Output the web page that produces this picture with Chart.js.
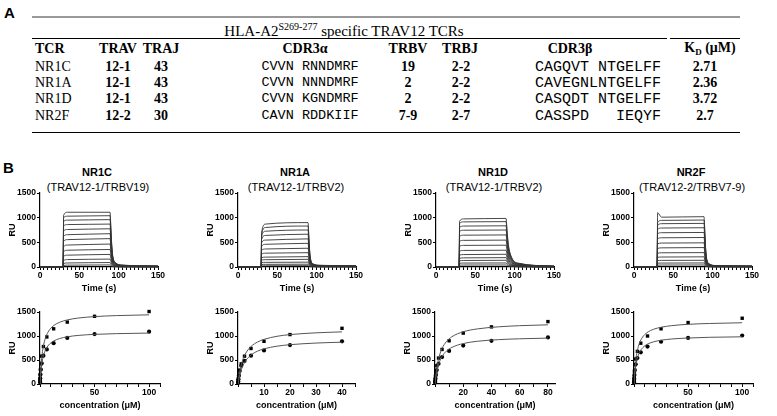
<!DOCTYPE html>
<html>
<head>
<meta charset="utf-8">
<script src="https://cdn.jsdelivr.net/npm/chart.js@4.4.1/dist/chart.umd.min.js"></script>
<style>
  body { margin: 0; background: #fff; }
  #page { position: relative; width: 777px; height: 416px; overflow: hidden; background: #fff;
          font-family: "Liberation Sans", Arial, sans-serif; color: #000; }
  .abs { position: absolute; }
  .panel { font-weight: bold; font-size: 15px; }
  .cell { position: absolute; font-family: "Liberation Serif", "Times New Roman", serif; font-size: 14px;
          white-space: pre; transform: translate(-50%, -50%); line-height: 1; }
  .cell.left { transform: translate(0, -50%); }
  .cell.b { font-weight: bold; }
  .cell.mono { font-family: "Liberation Mono", "Courier New", monospace; font-size: 13.5px; }
  .cell.mono.wide { font-size: 15px; }
  .rule { position: absolute; height: 0; }
  .ctitle { position: absolute; transform: translate(-50%, -50%); white-space: nowrap; line-height: 1; }
  .ctitle.main { font-weight: bold; font-size: 11px; }
  .ctitle.sub { font-size: 11px; }
  canvas { position: absolute; }
</style>
</head>
<body>
<div id="page">
  <div class="abs panel" style="left:4px; top:4px;">A</div>
  <div class="rule" style="left:32px; top:16px; width:708px; border-top:2px solid #999;"></div>
  <div class="cell" style="left:344px; top:30px; font-size:15px;">HLA-A2<sup style="font-size:10px;">S269-277</sup> specific TRAV12 TCRs</div>
  <div class="rule" style="left:32px; top:38px; width:635px; border-top:1.3px solid #000;"></div>
  <div class="rule" style="left:670px; top:38px; width:70px; border-top:1.3px solid #000;"></div>
  <div class="rule" style="left:32px; top:132px; width:708px; border-top:1.6px solid #000;"></div>
  <div id="tableCells"></div>

  <div class="abs panel" style="left:3px; top:159px;">B</div>
  <div id="chartTitles"></div>

  <canvas id="sg0" width="168" height="115"></canvas>
  <canvas id="sg1" width="168" height="115"></canvas>
  <canvas id="sg2" width="168" height="115"></canvas>
  <canvas id="sg3" width="168" height="115"></canvas>
  <canvas id="bd0" width="170" height="114"></canvas>
  <canvas id="bd1" width="167" height="114"></canvas>
  <canvas id="bd2" width="170" height="114"></canvas>
  <canvas id="bd3" width="169" height="114"></canvas>
</div>

<script>
// ---- table (panel A) ----
const tableHeaders = ['TCR', 'TRAV', 'TRAJ', 'CDR3\u03b1', 'TRBV', 'TRBJ', 'CDR3\u03b2', 'K<sub style="font-size:9px">D</sub> (\u03bcM)'];
const tcrNames = ['NR1C', 'NR1A', 'NR1D', 'NR2F'];
const travGenes = ['12-1', '12-1', '12-1', '12-2'];
const trajGenes = ['43', '43', '43', '30'];
const cdr3Alpha = ['CVVN RNNDMRF', 'CVVN NNNDMRF', 'CVVN KGNDMRF', 'CAVN RDDKIIF'];
const trbvGenes = ['19', '2', '2', '7-9'];
const trbjGenes = ['2-2', '2-2', '2-2', '2-7'];
const cdr3Beta = ['CAGQVT NTGELFF', 'CAVEGNLNTGELFF', 'CASQDT NTGELFF', 'CASSPD   IEQYF'];
const kdValues = ['2.71', '2.36', '3.72', '2.7'];

// subtitles of panel B
const chartNames = ['NR1C', 'NR1A', 'NR1D', 'NR2F'];
const chartChains = ['(TRAV12-1/TRBV19)', '(TRAV12-1/TRBV2)', '(TRAV12-1/TRBV2)', '(TRAV12-2/TRBV7-9)'];

// ---- sensorgrams: time points shared, each curve lists RU from t=30 on (baseline 0 before) ----
const sgTimes = [0, 29.5, 30, 35, 89, 90.5, 92, 96, 104, 150];
const sgNR1C = [
  [1050, 1110, 1110, 640, 280, 90, 40, 20],
  [1000, 1030, 1040, 600, 260, 85, 36, 18],
  [920, 950, 960, 550, 240, 78, 33, 16],
  [830, 860, 870, 500, 215, 70, 30, 15],
  [730, 760, 775, 440, 190, 62, 27, 13],
  [620, 655, 675, 385, 165, 54, 24, 12],
  [520, 555, 575, 330, 140, 46, 21, 10],
  [410, 445, 465, 265, 115, 38, 17, 9],
  [310, 340, 355, 205, 88, 29, 14, 7],
  [215, 240, 255, 145, 64, 22, 11, 6],
  [130, 150, 160, 92, 41, 15, 8, 4],
  [70, 82, 90, 52, 24, 9, 5, 3],
  [30, 38, 42, 25, 12, 5, 3, 2]
];
const sgNR1A = [
  [690, 870, 900, 470, 180, 60, 35, 25],
  [660, 800, 830, 430, 165, 55, 32, 22],
  [620, 725, 750, 390, 150, 50, 30, 20],
  [560, 640, 665, 345, 132, 45, 27, 18],
  [490, 545, 570, 295, 115, 40, 24, 16],
  [420, 460, 480, 250, 98, 35, 21, 14],
  [340, 365, 380, 200, 80, 29, 18, 12],
  [260, 280, 290, 152, 62, 24, 15, 10],
  [190, 200, 210, 112, 46, 19, 12, 8],
  [140, 148, 155, 84, 36, 15, 10, 7],
  [88, 94, 98, 54, 24, 11, 7, 5],
  [50, 54, 57, 32, 15, 8, 5, 4],
  [22, 25, 27, 16, 8, 5, 4, 3]
];
const sgNR1D = [
  [930, 975, 985, 700, 450, 200, 80, 20],
  [880, 915, 920, 650, 420, 185, 72, 18],
  [800, 830, 835, 590, 380, 168, 66, 16],
  [720, 745, 750, 530, 340, 150, 59, 14],
  [620, 645, 650, 460, 295, 130, 51, 12],
  [520, 540, 545, 385, 248, 110, 43, 10],
  [420, 438, 442, 312, 200, 89, 35, 8],
  [320, 336, 340, 240, 154, 68, 27, 6],
  [240, 252, 258, 182, 117, 52, 21, 5],
  [175, 185, 190, 134, 86, 38, 15, 4],
  [125, 132, 136, 96, 62, 27, 11, 3],
  [75, 80, 82, 58, 37, 17, 7, 2],
  [36, 40, 41, 29, 19, 9, 4, 1]
];
const sgNR2F = [
  [1100, 1010, 1020, 520, 200, 60, 30, 20],
  [900, 945, 952, 490, 188, 56, 28, 18],
  [840, 878, 884, 455, 175, 52, 26, 17],
  [760, 790, 796, 410, 158, 47, 24, 16],
  [670, 695, 700, 360, 140, 42, 22, 14],
  [570, 592, 598, 308, 120, 36, 19, 12],
  [470, 485, 490, 252, 98, 30, 16, 10],
  [375, 388, 394, 203, 80, 25, 13, 9],
  [278, 288, 292, 150, 60, 19, 11, 7],
  [195, 202, 206, 106, 42, 14, 8, 6],
  [130, 134, 136, 70, 28, 10, 6, 4],
  [78, 80, 82, 43, 18, 7, 5, 3],
  [38, 40, 41, 22, 10, 5, 3, 2]
];

// ---- steady-state binding: concentrations (uM), RU squares / circles, fitted curves ----
const concNR1C = [100, 50, 25, 12.5, 6.25, 3.125, 1.5625, 0.78, 0.39, 0.195, 0.098, 0.049];
const sqNR1C = [1510, 1410, 1290, 1150, 980, 780, 580, 420, 300, 190, 110, 60];
const ciNR1C = [1090, 1040, 960, 850, 720, 590, 430, 300, 200, 120, 65, 30];
const fitXNR1C = [0, 0.2, 0.5, 1, 2, 3, 5, 8, 12, 18, 25, 35, 50, 70, 100];
const fitSqNR1C = [0, 102, 230, 400, 630, 778, 960, 1105, 1207, 1286, 1335, 1374, 1404, 1425, 1441];
const fitCiNR1C = [0, 75, 170, 294, 464, 573, 707, 814, 889, 947, 983, 1012, 1034, 1049, 1061];

const concNR1A = [40, 20, 10, 5, 2.5, 1.25, 0.625, 0.3125, 0.156, 0.078, 0.039];
const sqNR1A = [1160, 1030, 890, 740, 580, 420, 290, 190, 110, 60, 30];
const ciNR1A = [890, 810, 700, 590, 480, 380, 270, 170, 100, 55, 25];
const fitXNR1A = [0, 0.2, 0.5, 1, 2, 3, 5, 7.5, 10, 15, 20, 30, 40];
const fitSqNR1A = [0, 90, 201, 342, 528, 644, 781, 875, 930, 994, 1029, 1066, 1086];
const fitCiNR1A = [0, 64, 146, 251, 396, 489, 604, 684, 732, 788, 819, 853, 871];

const concNR1D = [80, 40, 20, 10, 5, 2.5, 1.25, 0.625, 0.3125, 0.156, 0.078];
const sqNR1D = [1300, 1190, 1060, 900, 720, 540, 380, 250, 150, 80, 40];
const ciNR1D = [970, 900, 800, 690, 560, 420, 290, 190, 110, 60, 30];
const fitXNR1D = [0, 0.3, 0.7, 1.5, 3, 5, 8, 12, 20, 30, 45, 60, 80];
const fitSqNR1D = [0, 96, 204, 371, 576, 740, 881, 985, 1088, 1148, 1191, 1215, 1233];
const fitCiNR1D = [0, 75, 158, 287, 446, 573, 683, 763, 843, 890, 924, 942, 956];

const concNR2F = [100, 50, 25, 12.5, 6.25, 3.125, 1.5625, 0.78, 0.39, 0.195, 0.098, 0.049];
const sqNR2F = [1370, 1280, 1150, 1000, 850, 680, 520, 400, 260, 150, 80, 40];
const ciNR2F = [1010, 960, 880, 780, 660, 540, 410, 290, 190, 110, 60, 30];
const fitXNR2F = [0, 0.2, 0.5, 1, 2, 3, 5, 8, 12, 18, 25, 35, 50, 70, 100];
const fitSqNR2F = [0, 90, 205, 354, 557, 689, 851, 979, 1069, 1139, 1182, 1216, 1243, 1261, 1276];
const fitCiNR2F = [0, 70, 158, 273, 430, 532, 656, 755, 825, 878, 912, 938, 958, 973, 983];

// ---- build table ----
const cells = document.getElementById('tableCells');
function addCell(html, x, y, cls) {
  const d = document.createElement('div');
  d.className = 'cell ' + (cls || '');
  d.style.left = x + 'px';
  d.style.top = y + 'px';
  d.innerHTML = html;
  cells.appendChild(d);
}
const headX = [35, 118, 161, 305, 408, 460, 570, 710];
headX.forEach((x, i) => addCell(tableHeaders[i], x, 49, i === 0 ? 'b left' : 'b'));
const rowY = [67, 83, 99, 116];
tcrNames.forEach((name, r) => {
  const y = rowY[r];
  addCell(name, 35, y, 'left');
  addCell(travGenes[r], 118, y, 'b');
  addCell(trajGenes[r], 161, y, 'b');
  addCell(cdr3Alpha[r], 310, y, 'mono');
  addCell(trbvGenes[r], 408, y, 'b');
  addCell(trbjGenes[r], 461, y, 'b');
  addCell(cdr3Beta[r], 598, y, 'mono wide');
  addCell(kdValues[r], 705, y, 'b');
});

// ---- chart layout (plot-area left edge in page pixels) ----
const topLeft = [40, 238, 436, 634];
const botLeft = [40, 238, 435, 634];
const Y_AXIS_W = 38;

const titles = document.getElementById('chartTitles');
chartNames.forEach((n, i) => {
  const cx = topLeft[i] + 59 - 2;
  const t = document.createElement('div');
  t.className = 'ctitle main';
  t.style.left = cx + 'px'; t.style.top = '172px';
  t.textContent = n;
  titles.appendChild(t);
  const s = document.createElement('div');
  s.className = 'ctitle sub';
  s.style.left = (cx + 1) + 'px'; s.style.top = '187px';
  s.textContent = chartChains[i];
  titles.appendChild(s);
});

Chart.defaults.font.family = 'Liberation Sans';
Chart.defaults.color = '#000';

const tickFont = { family: 'Liberation Sans', size: 8.5, weight: 'bold' };
const axisTitleFont = { family: 'Liberation Sans', size: 9, weight: 'bold' };

function makeChart(id, datasets, x) {
  return new Chart(document.getElementById(id), {
    type: 'scatter',
    data: { datasets: datasets },
    options: {
      responsive: false,
      animation: false,
      events: [],
      layout: { padding: { top: 10, right: 12, left: 0, bottom: 0 } },
      plugins: { legend: { display: false }, tooltip: { enabled: false } },
      scales: {
        x: {
          type: 'linear', min: 0, max: x.max,
          afterFit: s => { s.height = x.h; },
          ticks: {
            stepSize: x.step, autoSkip: false, maxRotation: 0, padding: 1, includeBounds: false,
            font: tickFont, color: '#000',
            callback: v => x.labels.includes(Math.round(v)) ? String(Math.round(v)) : ''
          },
          grid: { drawOnChartArea: false, tickLength: 3, lineWidth: 1, color: '#000' },
          border: { color: '#000', width: 1.2 },
          title: { display: true, text: x.title, font: axisTitleFont, color: '#000', padding: { top: 0, bottom: x.tb } }
        },
        y: {
          min: 0, max: 1500,
          afterFit: s => { s.width = Y_AXIS_W; },
          ticks: { stepSize: 500, padding: 1, font: tickFont, color: '#000', callback: v => String(v) },
          grid: { drawOnChartArea: false, tickLength: 3, color: '#000', lineWidth: 1 },
          border: { color: '#000', width: 1.2 },
          title: { display: true, text: 'RU', font: axisTitleFont, color: '#000', padding: { top: 5, bottom: 0 } }
        }
      }
    }
  });
}

function sensorgramSets(curves) {
  return curves.map(c => ({
    data: sgTimes.map((t, i) => ({ x: t, y: i < 2 ? 0 : c[i - 2] })),
    showLine: true, borderColor: '#333', borderWidth: 0.9, pointRadius: 0,
    cubicInterpolationMode: 'monotone', clip: false
  }));
}

function bindingSets(conc, sq, ci, fx, fsq, fci) {
  const pts = (xs, ys) => xs.map((v, i) => ({ x: v, y: ys[i] }));
  return [
    { data: pts(fx, fsq), showLine: true, borderColor: '#555', borderWidth: 1, pointRadius: 0, cubicInterpolationMode: 'monotone' },
    { data: pts(fx, fci), showLine: true, borderColor: '#555', borderWidth: 1, pointRadius: 0, cubicInterpolationMode: 'monotone' },
    { data: pts(conc, sq), pointStyle: 'rect', pointRadius: 2.4, backgroundColor: '#000', borderColor: '#000', borderWidth: 0, clip: false },
    { data: pts(conc, ci), pointStyle: 'circle', pointRadius: 2.1, backgroundColor: '#000', borderColor: '#000', borderWidth: 0, clip: false }
  ];
}

const sgData = [sgNR1C, sgNR1A, sgNR1D, sgNR2F];
sgData.forEach((curves, i) => {
  const cv = document.getElementById('sg' + i);
  cv.style.left = (topLeft[i] - Y_AXIS_W) + 'px';
  cv.style.top = '183px';
  makeChart('sg' + i, sensorgramSets(curves),
    { max: 150, step: 5, labels: [0, 50, 100, 150], h: 31, tb: 4, title: 'Time (s)' });
});

const bdData = [
  [concNR1C, sqNR1C, ciNR1C, fitXNR1C, fitSqNR1C, fitCiNR1C],
  [concNR1A, sqNR1A, ciNR1A, fitXNR1A, fitSqNR1A, fitCiNR1A],
  [concNR1D, sqNR1D, ciNR1D, fitXNR1D, fitSqNR1D, fitCiNR1D],
  [concNR2F, sqNR2F, ciNR2F, fitXNR2F, fitSqNR2F, fitCiNR2F]
];
const bdAxes = [
  { max: 110, step: 10, labels: [50, 100] },
  { max: 45, step: 5, labels: [10, 20, 30, 40] },
  { max: 85, step: 10, labels: [20, 40, 60, 80] },
  { max: 110, step: 10, labels: [50, 100] }
];
bdData.forEach((d, i) => {
  const cv = document.getElementById('bd' + i);
  cv.style.left = (botLeft[i] - Y_AXIS_W) + 'px';
  cv.style.top = '302px';
  makeChart('bd' + i, bindingSets(...d),
    Object.assign({ h: 32, tb: 5, title: 'concentration (\u03bcM)' }, bdAxes[i]));
});
</script>
</body>
</html>
